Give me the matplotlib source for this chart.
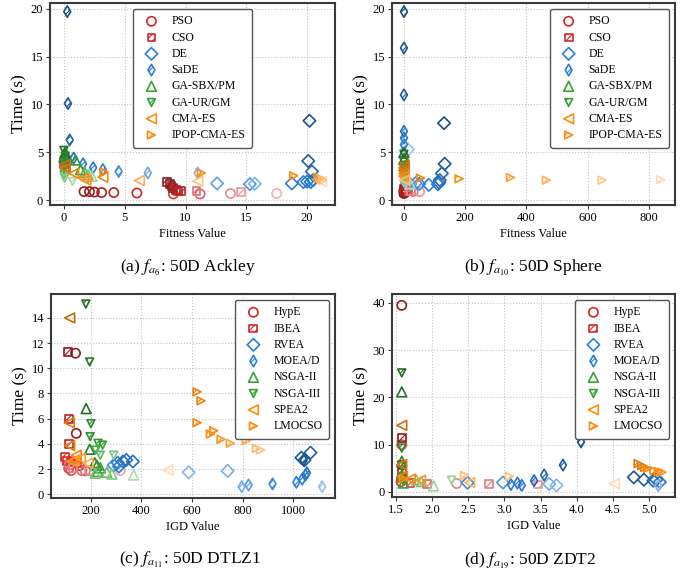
import numpy as np
import matplotlib
matplotlib.use("Agg")
import matplotlib.pyplot as plt
from matplotlib.colors import to_rgb

plt.rcParams['font.family'] = ['Liberation Serif', 'DejaVu Serif']
plt.rcParams['mathtext.fontset'] = 'stix'
plt.rcParams['hatch.linewidth'] = 0.8

# ---------------- data: panel (a) 50D Ackley ----------------
A_PSO_X = [1.65, 2.1, 2.5, 3.1, 4.1, 6.0, 9.0, 11.2, 13.7, 17.5]
A_PSO_Y = [0.9, 0.9, 0.85, 0.8, 0.8, 0.75, 0.65, 0.65, 0.7, 0.7]
A_PSO_S = [0.5, 0.45, 0.4, 0.3, 0.2, 0.05, -0.1, -0.3, -0.55, -0.75]
A_CSO_X = [0.0, 0.05, 8.5, 8.7, 8.85, 9.0, 9.2, 9.4, 9.6, 10.9, 14.6]
A_CSO_Y = [3.8, 3.5, 1.9, 1.7, 1.45, 1.25, 1.1, 1.0, 1.0, 0.98, 0.9]
A_CSO_S = [0.1, 0.0, 0.6, 0.55, 0.5, 0.45, 0.4, 0.3, 0.2, -0.4, -0.6]
A_DE_X = [12.6, 15.3, 15.7, 18.75, 19.7, 20.0, 20.3, 20.5, 20.4, 20.1, 20.2]
A_DE_Y = [1.75, 1.68, 1.72, 1.75, 1.9, 1.95, 1.9, 2.1, 3.0, 4.1, 8.3]
A_DE_S = [-0.3, -0.2, -0.45, 0.0, 0.05, 0.1, 0.15, 0.1, 0.3, 0.45, 0.6]
A_SADE_X = [0.27, 0.33, 0.47, 0.8, 1.57, 2.4, 3.2, 4.5, 6.9, 11.0]
A_SADE_Y = [19.7, 10.1, 6.3, 4.4, 3.8, 3.4, 3.2, 3.0, 2.85, 2.85]
A_SADE_S = [0.65, 0.55, 0.35, 0.2, 0.1, 0.05, 0.0, -0.15, -0.35, -0.5]
A_GASBX_X = [0.0, 0.05, 0.1, 0.15, 0.95, 1.37, 1.7, 2.0, 2.3]
A_GASBX_Y = [4.5, 4.8, 5.0, 4.3, 4.2, 3.2, 2.9, 2.65, 2.5]
A_GASBX_S = [0.45, 0.5, 0.55, 0.3, 0.15, 0.05, -0.15, -0.4, -0.6]
A_GAUR_X = [0.0, 0.1, 0.0, 0.0, 0.0, 0.05, 0.7]
A_GAUR_Y = [5.2, 4.6, 3.9, 3.2, 2.65, 2.3, 1.95]
A_GAUR_S = [0.5, 0.35, 0.15, 0.0, -0.25, -0.45, -0.7]
A_CMA_X = [0.1, 0.1, 0.8, 1.6, 1.8, 3.2, 6.2, 11.0, 21.2]
A_CMA_Y = [3.7, 3.35, 2.8, 2.3, 2.1, 2.4, 2.05, 2.0, 1.95]
A_CMA_S = [0.35, 0.25, 0.1, 0.0, -0.05, 0.05, -0.35, -0.55, -0.8]
A_IPOP_X = [3.3, 11.3, 18.9, 20.9, 21.1, 21.3]
A_IPOP_Y = [2.95, 2.85, 2.55, 2.4, 2.25, 2.1]
A_IPOP_S = [0.05, 0.0, 0.0, -0.1, -0.3, -0.5]

# ---------------- data: panel (b) 50D Sphere ----------------
B_PSO_X = [0, 2, 1, 0, 3, 5, 10, 30, 51]
B_PSO_Y = [0.7, 0.8, 0.9, 1.0, 1.05, 0.85, 0.95, 0.9, 0.9]
B_PSO_S = [0.6, 0.55, 0.5, 0.45, 0.4, 0.3, -0.2, -0.45, -0.6]
B_CSO_X = [0, 1, 2, 15, 24]
B_CSO_Y = [1.2, 0.9, 1.0, 1.0, 1.0]
B_CSO_S = [0.5, 0.45, 0.3, -0.3, -0.5]
B_DE_X = [131, 133, 124, 117, 115, 111, 81, 50, 38, 21, 13]
B_DE_Y = [8.05, 3.8, 2.8, 2.1, 1.85, 1.67, 1.6, 1.7, 1.78, 1.7, 5.3]
B_DE_S = [0.65, 0.55, 0.4, 0.3, 0.2, 0.15, 0.0, -0.05, -0.15, -0.3, -0.6]
B_SADE_X = [0, 0, 0, 0, 0, 0, 0, 0, 0, 0]
B_SADE_Y = [19.7, 15.9, 11.0, 7.2, 6.5, 5.8, 4.3, 3.2, 2.6, 2.0]
B_SADE_S = [0.65, 0.55, 0.45, 0.15, 0.1, 0.0, -0.1, -0.2, -0.4, -0.6]
B_GASBX_X = [0, 0, 1, 2, 5, 20]
B_GASBX_Y = [5.0, 4.3, 3.6, 3.0, 2.3, 1.7]
B_GASBX_S = [0.5, 0.3, 0.15, 0.0, -0.4, -0.7]
B_GAUR_X = [0, 0, 0, 0, 0, 0]
B_GAUR_Y = [4.8, 4.0, 3.4, 2.9, 2.4, 2.1]
B_GAUR_S = [0.55, 0.35, 0.15, 0.0, -0.3, -0.5]
B_CMA_X = [0, 0, 0, 0, 0, 3]
B_CMA_Y = [3.7, 3.4, 3.1, 2.8, 2.5, 2.1]
B_CMA_S = [0.35, 0.3, 0.2, 0.1, 0.0, -0.5]
B_IPOP_X = [54, 180, 348, 465, 647, 838]
B_IPOP_Y = [2.3, 2.23, 2.37, 2.09, 2.09, 2.13]
B_IPOP_S = [0.05, -0.05, -0.2, -0.4, -0.6, -0.8]

# ---------------- data: panel (c) 50D DTLZ1 ----------------
C_HYPE_X = [139, 142, 154, 112, 122, 164, 178, 195, 316]
C_HYPE_Y = [11.2, 4.83, 2.27, 2.06, 1.88, 1.88, 1.85, 1.88, 1.88]
C_HYPE_S = [0.5, 0.45, 0.1, -0.1, -0.2, -0.3, -0.4, -0.5, -0.7]
C_IBEA_X = [109, 113, 113, 96, 105, 122, 145, 112, 130]
C_IBEA_Y = [11.3, 5.94, 3.96, 2.98, 2.64, 2.6, 2.5, 2.3, 2.1]
C_IBEA_S = [0.55, 0.2, 0.15, 0.05, 0.0, -0.05, -0.1, -0.35, -0.5]
C_RVEA_X = [290, 306, 311, 327, 340, 366, 587, 741, 1033, 1045, 1069]
C_RVEA_Y = [2.3, 2.5, 2.2, 2.6, 2.72, 2.6, 1.74, 1.85, 2.9, 2.7, 3.3]
C_RVEA_S = [-0.1, 0.0, 0.05, 0.1, 0.15, 0.2, -0.5, -0.45, 0.5, 0.45, 0.4]
C_MOEAD_X = [797, 824, 919, 1013, 1036, 1049, 1055, 1115, 1042]
C_MOEAD_Y = [0.6, 0.74, 0.82, 0.95, 1.2, 1.53, 1.7, 0.6, 2.7]
C_MOEAD_S = [-0.4, -0.25, -0.1, 0.0, 0.05, 0.1, 0.15, -0.6, 0.55]
C_NSGA2_X = [181, 195, 215, 224, 237, 226, 263, 283, 217, 369]
C_NSGA2_Y = [6.8, 3.57, 2.5, 2.3, 2.1, 1.8, 1.74, 1.6, 1.66, 1.53]
C_NSGA2_S = [0.55, 0.45, 0.3, 0.2, 0.1, -0.1, -0.3, -0.45, -0.4, -0.7]
C_NSGA3_X = [180, 195, 200, 197, 228, 246, 219, 237, 290]
C_NSGA3_Y = [15.1, 10.5, 5.6, 4.57, 4.04, 3.9, 3.5, 3.1, 3.1]
C_NSGA3_S = [0.55, 0.4, 0.25, 0.15, 0.1, 0.0, -0.1, -0.25, -0.45]
C_SPEA2_X = [116, 114, 116, 142, 135, 125, 158, 188, 504]
C_SPEA2_Y = [14.0, 5.68, 3.86, 3.1, 2.72, 2.6, 2.85, 2.46, 1.93]
C_SPEA2_S = [0.4, 0.2, 0.15, 0.05, 0.0, -0.05, -0.15, -0.35, -0.8]
C_LMOCSO_X = [620, 636, 620, 673, 686, 715, 752, 815, 855, 871]
C_LMOCSO_Y = [8.13, 7.42, 5.68, 4.78, 5.04, 4.36, 4.04, 4.25, 3.64, 3.51]
C_LMOCSO_S = [0.15, 0.1, 0.05, 0.0, 0.0, -0.1, -0.2, -0.3, -0.45, -0.55]

# ---------------- data: panel (d) 50D ZDT2 ----------------
D_HYPE_X = [1.58, 1.58, 1.58, 1.57, 2.34]
D_HYPE_Y = [39.5, 10.0, 3.0, 2.2, 1.8]
D_HYPE_S = [0.5, -0.2, 0.0, -0.1, -0.5]
D_IBEA_X = [1.58, 1.58, 1.58, 1.58, 1.7, 1.93, 2.79, 3.46]
D_IBEA_Y = [11.4, 5.8, 4.2, 3.0, 1.9, 1.76, 1.7, 1.6]
D_IBEA_S = [0.55, 0.3, 0.2, 0.1, -0.1, -0.3, -0.45, -0.6]
D_RVEA_X = [2.49, 2.98, 3.62, 3.72, 4.79, 4.93, 5.06, 5.1, 5.15]
D_RVEA_Y = [1.95, 2.0, 1.7, 1.4, 3.1, 2.6, 2.4, 2.6, 2.1]
D_RVEA_S = [-0.1, -0.2, -0.4, -0.5, 0.55, 0.5, 0.3, 0.25, 0.15]
D_MOEAD_X = [3.09, 3.18, 3.24, 3.41, 3.55, 3.81, 4.06, 5.13]
D_MOEAD_Y = [1.6, 1.9, 1.4, 2.4, 3.6, 5.7, 10.6, 1.3]
D_MOEAD_S = [0.05, 0.1, 0.1, 0.3, 0.35, 0.45, 0.55, -0.5]
D_NSGA2_X = [1.58, 1.58, 1.58, 1.6, 1.78, 1.85, 2.02]
D_NSGA2_Y = [21.2, 6.5, 3.5, 1.9, 2.6, 2.2, 1.3]
D_NSGA2_S = [0.5, 0.3, 0.1, 0.0, -0.5, -0.4, -0.6]
D_NSGA3_X = [1.58, 1.58, 1.58, 1.58, 1.6, 2.27]
D_NSGA3_Y = [25.2, 9.3, 5.4, 3.3, 2.3, 2.5]
D_NSGA3_S = [0.55, 0.3, 0.2, 0.1, 0.0, -0.6]
D_SPEA2_X = [1.58, 1.58, 1.59, 1.7, 1.84, 2.52, 4.52]
D_SPEA2_Y = [14.1, 5.8, 3.3, 2.75, 2.5, 2.0, 1.76]
D_SPEA2_S = [0.35, 0.2, 0.1, 0.0, -0.1, -0.4, -0.8]
D_LMOCSO_X = [4.85, 4.9, 4.94, 4.98, 5.07, 5.13, 5.18, 2.45, 3.07, 1.6]
D_LMOCSO_Y = [6.0, 5.6, 5.2, 5.0, 4.5, 4.3, 4.2, 3.5, 3.3, 2.8]
D_LMOCSO_S = [0.25, 0.2, 0.15, 0.1, 0.05, 0.0, -0.05, -0.5, -0.55, 0.0]

SO_NAMES = ["PSO", "CSO", "DE", "SaDE", "GA-SBX/PM", "GA-UR/GM", "CMA-ES", "IPOP-CMA-ES"]
MO_NAMES = ["HypE", "IBEA", "RVEA", "MOEA/D", "NSGA-II", "NSGA-III", "SPEA2", "LMOCSO"]
CAPTIONS = ["(a) $f_{a_6}$: 50D Ackley", "(b) $f_{a_{10}}$: 50D Sphere",
            "(c) $f_{a_{11}}$: 50D DTLZ1", "(d) $f_{a_{19}}$: 50D ZDT2"]

RED, BLUE, GREEN, ORANGE = '#d62728', '#2a80d8', '#36a336', '#ff8c0f'
# marker, size, hatch, color for each of the 8 series slots
STYLES = [('o', 44, None, RED), ('s', 32, '/////', RED),
          ('D', 40, None, BLUE), ('d', 34, '/////', BLUE),
          ('^', 50, None, GREEN), ('v', 32, '/////', GREEN),
          ('<', 50, None, ORANGE), ('>', 32, '/////', ORANGE)]


def shade(base, s):
    c = np.array(to_rgb(base))
    if s >= 0:
        return tuple(c * (1 - 0.6 * s))
    return tuple(c + (1 - c) * (-s) * 0.85)


def draw(ax, series, names):
    for (xs, ys, ss), (m, sz, h, col), nm in zip(series, STYLES, names):
        for x, y, s in zip(xs, ys, ss):
            ax.scatter([x], [y], marker=m, s=sz, facecolors='none',
                       edgecolors=[shade(col, s)], hatch=h, linewidths=1.2, zorder=3)
        ax.scatter([], [], marker=m, s=sz, facecolors='none', edgecolors=[col],
                   hatch=h, linewidths=1.2, label=nm)


def style(ax, xlim, ylim, xticks, yticks, xlabel, legloc, cap, capx, capy):
    ax.set_xlim(*xlim)
    ax.set_ylim(*ylim)
    ax.set_xticks(xticks)
    ax.set_yticks(yticks)
    ax.grid(True, linestyle=':', color='#c4c4c4', linewidth=0.8)
    ax.set_axisbelow(True)
    for sp in ax.spines.values():
        sp.set_color('#3a3a3a')
        sp.set_linewidth(1.5)
    ax.tick_params(direction='out', length=3, width=0.8, color='#3a3a3a',
                   labelsize=9, pad=2)
    ax.set_xlabel(xlabel, fontsize=9, labelpad=3)
    ax.set_ylabel("Time (s)", fontsize=12.5, labelpad=2)
    leg = ax.legend(loc=legloc, fontsize=8.5, labelspacing=0.36, handletextpad=0.7,
                    borderpad=0.55, frameon=True, fancybox=True, framealpha=1)
    leg.get_frame().set_edgecolor('#555555')
    leg.get_frame().set_linewidth(1.0)
    ax.figure.text(capx, capy, cap, fontsize=12.5, ha='center', va='center')


fig = plt.figure(figsize=(6.91, 5.78), dpi=100)
W, H = 691.0, 578.0
axa = fig.add_axes([50 / W, 1 - 205 / H, 285 / W, 202 / H])
axb = fig.add_axes([392 / W, 1 - 205 / H, 283 / W, 202 / H])
axc = fig.add_axes([51 / W, 1 - 498 / H, 284 / W, 204 / H])
axd = fig.add_axes([392 / W, 1 - 497 / H, 283 / W, 203 / H])

draw(axa, [(A_PSO_X, A_PSO_Y, A_PSO_S), (A_CSO_X, A_CSO_Y, A_CSO_S),
           (A_DE_X, A_DE_Y, A_DE_S), (A_SADE_X, A_SADE_Y, A_SADE_S),
           (A_GASBX_X, A_GASBX_Y, A_GASBX_S), (A_GAUR_X, A_GAUR_Y, A_GAUR_S),
           (A_CMA_X, A_CMA_Y, A_CMA_S), (A_IPOP_X, A_IPOP_Y, A_IPOP_S)], SO_NAMES)
draw(axb, [(B_PSO_X, B_PSO_Y, B_PSO_S), (B_CSO_X, B_CSO_Y, B_CSO_S),
           (B_DE_X, B_DE_Y, B_DE_S), (B_SADE_X, B_SADE_Y, B_SADE_S),
           (B_GASBX_X, B_GASBX_Y, B_GASBX_S), (B_GAUR_X, B_GAUR_Y, B_GAUR_S),
           (B_CMA_X, B_CMA_Y, B_CMA_S), (B_IPOP_X, B_IPOP_Y, B_IPOP_S)], SO_NAMES)
draw(axc, [(C_HYPE_X, C_HYPE_Y, C_HYPE_S), (C_IBEA_X, C_IBEA_Y, C_IBEA_S),
           (C_RVEA_X, C_RVEA_Y, C_RVEA_S), (C_MOEAD_X, C_MOEAD_Y, C_MOEAD_S),
           (C_NSGA2_X, C_NSGA2_Y, C_NSGA2_S), (C_NSGA3_X, C_NSGA3_Y, C_NSGA3_S),
           (C_SPEA2_X, C_SPEA2_Y, C_SPEA2_S), (C_LMOCSO_X, C_LMOCSO_Y, C_LMOCSO_S)], MO_NAMES)
draw(axd, [(D_HYPE_X, D_HYPE_Y, D_HYPE_S), (D_IBEA_X, D_IBEA_Y, D_IBEA_S),
           (D_RVEA_X, D_RVEA_Y, D_RVEA_S), (D_MOEAD_X, D_MOEAD_Y, D_MOEAD_S),
           (D_NSGA2_X, D_NSGA2_Y, D_NSGA2_S), (D_NSGA3_X, D_NSGA3_Y, D_NSGA3_S),
           (D_SPEA2_X, D_SPEA2_Y, D_SPEA2_S), (D_LMOCSO_X, D_LMOCSO_Y, D_LMOCSO_S)], MO_NAMES)

style(axa, (-1.15, 22.3), (-0.5, 20.6), [0, 5, 10, 15, 20], [0, 5, 10, 15, 20],
      "Fitness Value", 'upper center', CAPTIONS[0], 188 / W, 1 - 268 / H)
style(axb, (-39, 885), (-0.5, 20.6), [0, 200, 400, 600, 800], [0, 5, 10, 15, 20],
      "Fitness Value", 'upper right', CAPTIONS[1], 533 / W, 1 - 268 / H)
style(axc, (42, 1166), (-0.3, 15.9), [200, 400, 600, 800, 1000], list(range(0, 15, 2)),
      "IGD Value", 'upper right', CAPTIONS[2], 190 / W, 1 - 560 / H)
style(axd, (1.445, 5.36), (-1.06, 41.9), [1.5, 2.0, 2.5, 3.0, 3.5, 4.0, 4.5, 5.0],
      [0, 10, 20, 30, 40], "IGD Value", 'upper right', CAPTIONS[3], 530 / W, 1 - 560 / H)

fig.savefig("out.png", dpi=100)
